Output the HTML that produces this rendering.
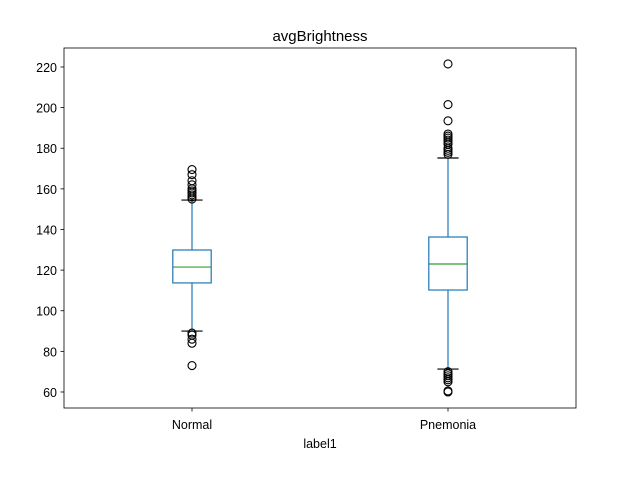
<!DOCTYPE html>
<html><head><meta charset="utf-8"><style>body{margin:0;background:#fff}svg{display:block;font-family:"Liberation Sans","DejaVu Sans",sans-serif}</style></head>
<body>
<svg id="c" width="640" height="480"></svg>
<script>
const categories=["Normal","Pnemonia"];
const q1=[113.7,110.2];
const medians=[121.5,123.0];
const q3=[129.9,136.3];
const whiskLow=[90,71.3];
const whiskHigh=[154.5,175.2];
const outliersNormal=[155,156,157,158,159,160,162,164,167,169.5,89,88,86,84,73];
const outliersPnemonia=[177,178,179,180,182,183,184,185,186,187,193.5,201.5,221.5,70,69,68,67,66,65,60.5,60];
const yTicks=[60,80,100,120,140,160,180,200,220];
const outliers=[outliersNormal,outliersPnemonia];
const NS="http://www.w3.org/2000/svg",svg=document.getElementById('c');
const L=64,R=576,T=48,B=408,y0=52.12,y1=229.35;
const X=p=>L+(p-0.5)/2*(R-L);
const Y=v=>B-(v-y0)/(y1-y0)*(B-T);
function mk(t,a,p){const e=document.createElementNS(NS,t);for(const k in a)e.setAttribute(k,a[k]);(p||svg).appendChild(e);return e;}
mk('rect',{x:L,y:T,width:R-L,height:B-T,fill:'none',stroke:'#000','stroke-width':0.8});
yTicks.forEach(v=>{const y=Y(v);
const tk=mk('line',{x1:L-3.5,x2:L,y1:y,y2:y,stroke:'#000','stroke-width':0.8});


const t=mk('text',{x:L-7,y:y+5,'text-anchor':'end','font-size':12.5,fill:'#000'});t.textContent=v;

});
categories.forEach((c,i)=>{const x=X(i+1),hw=0.075*256,cw=hw/2+1;
const g=mk('g',{});


mk('line',{x1:x,x2:x,y1:Y(q3[i]),y2:Y(whiskHigh[i]),stroke:'#1f77b4','stroke-width':1.2},g);
mk('line',{x1:x,x2:x,y1:Y(q1[i]),y2:Y(whiskLow[i]),stroke:'#1f77b4','stroke-width':1.2},g);
mk('line',{x1:x-cw,x2:x+cw,y1:Y(whiskHigh[i]),y2:Y(whiskHigh[i]),stroke:'#000','stroke-width':1.2},g);
mk('line',{x1:x-cw,x2:x+cw,y1:Y(whiskLow[i]),y2:Y(whiskLow[i]),stroke:'#000','stroke-width':1.2},g);
mk('rect',{x:x-hw,y:Y(q3[i]),width:2*hw,height:Y(q1[i])-Y(q3[i]),fill:'none',stroke:'#1f77b4','stroke-width':1.2},g);
mk('line',{x1:x-hw,x2:x+hw,y1:Y(medians[i]),y2:Y(medians[i]),stroke:'#2ca02c','stroke-width':1.2},g);
outliers[i].forEach(v=>{const o=mk('circle',{cx:x,cy:Y(v),r:4,fill:'none',stroke:'#000','stroke-width':1.1},g);

});
mk('line',{x1:x,x2:x,y1:B,y2:B+3.5,stroke:'#000','stroke-width':0.8});
const t=mk('text',{x:x,y:B+21,'text-anchor':'middle','font-size':12.5,fill:'#000'});t.textContent=c;

});
const xt=mk('text',{x:320,y:448,'text-anchor':'middle','font-size':12.5});xt.textContent='label1';


const ti=mk('text',{x:320,y:41,'text-anchor':'middle','font-size':15});ti.textContent='avgBrightness';


</script>
</body></html>
